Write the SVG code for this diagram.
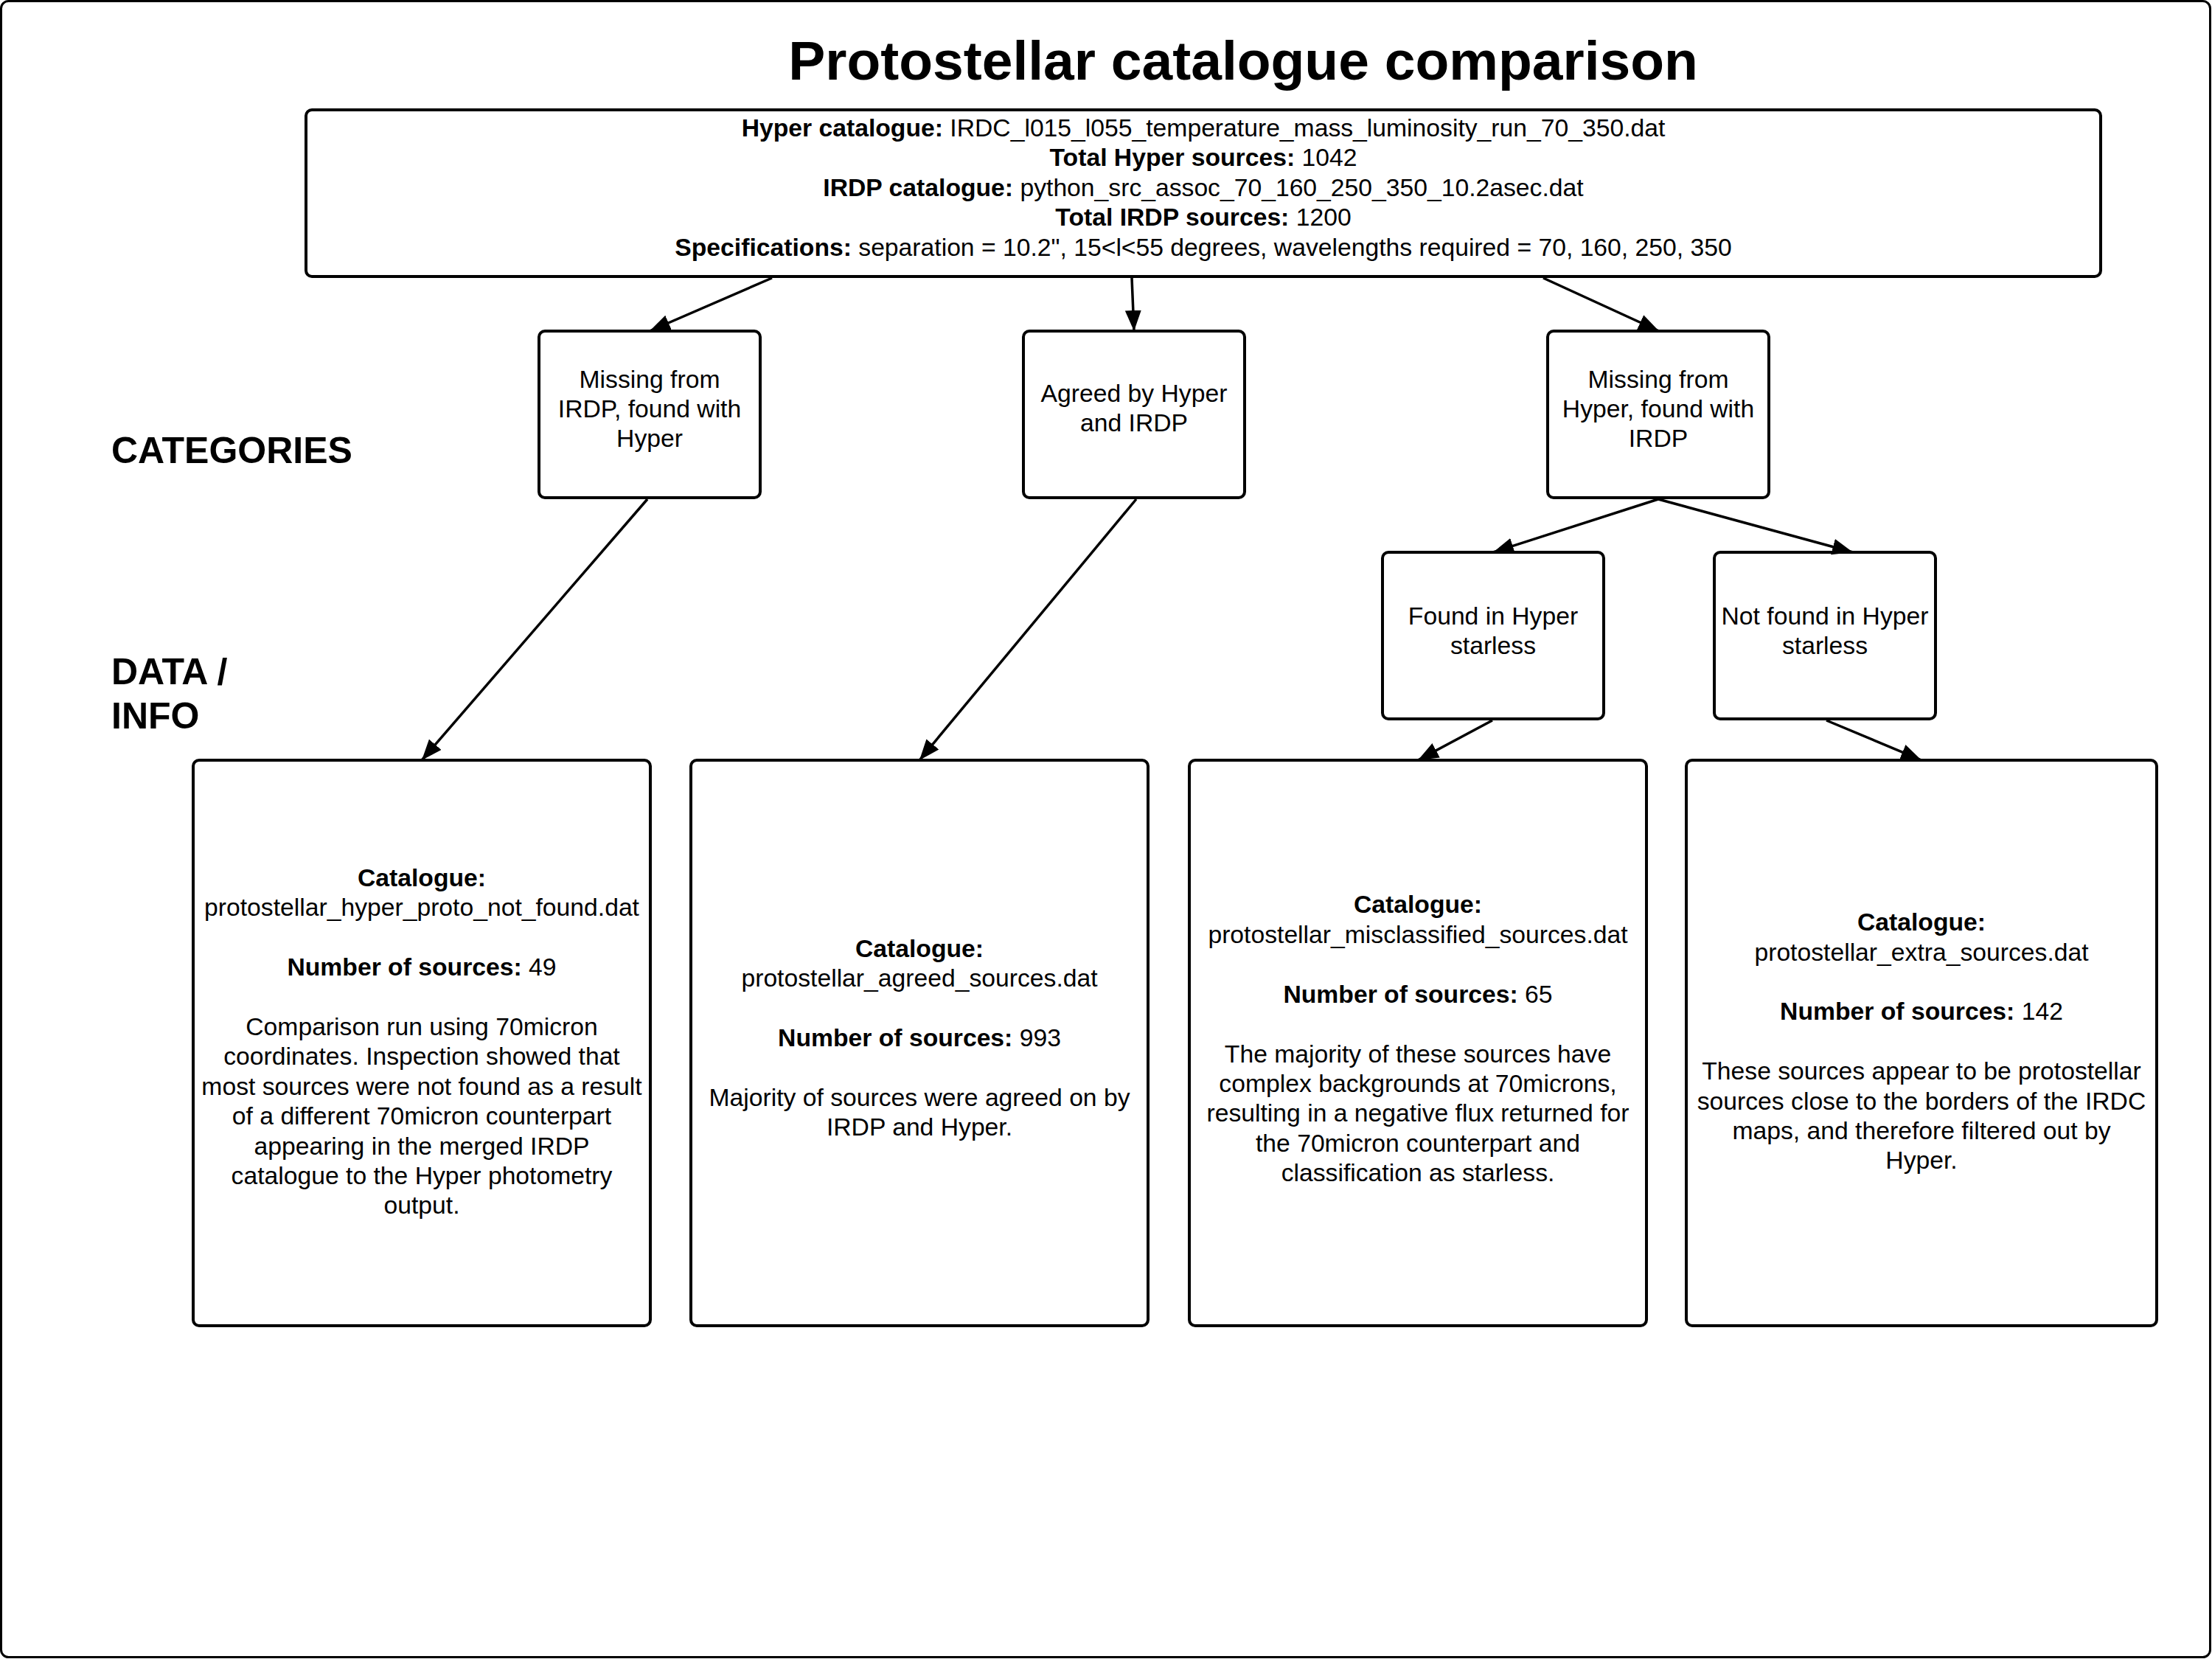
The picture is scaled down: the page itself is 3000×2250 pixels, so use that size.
<svg xmlns="http://www.w3.org/2000/svg" width="3000" height="2250" viewBox="0 0 3000 2250">
<defs>
<style>
text{font-family:"Liberation Sans",Arial,sans-serif;fill:#000}
.t{font-size:33.7px;text-anchor:middle}
.b{font-weight:bold}
.title{font-size:75px;font-weight:bold;text-anchor:middle}
.lab{font-size:50px;font-weight:bold}
.box{fill:#fff;stroke:#000;stroke-width:4}
.edge{fill:none;stroke:#000;stroke-width:3.5;marker-end:url(#arr)}
</style>
<marker id="arr" markerUnits="userSpaceOnUse" markerWidth="32" markerHeight="24" refX="28" refY="11" orient="auto" viewBox="0 0 32 24">
<path d="M0,0 L28,11 L0,22 Z" fill="#000"/>
</marker>
</defs>
<rect x="0" y="0" width="3000" height="2250" fill="#fff"/>
<rect x="1.5" y="1.5" width="2996" height="2246" rx="10" fill="none" stroke="#000" stroke-width="3"/>
<text class="title" x="1686" y="108">Protostellar catalogue comparison</text>
<text class="lab" x="151" y="628">CATEGORIES</text>
<text class="lab" x="151" y="928">DATA /</text>
<text class="lab" x="151" y="988">INFO</text>

<g id="header">
<rect class="box" x="415" y="149" width="2434" height="226" rx="8"/>
<text class="t" x="1632" y="185"><tspan class="b">Hyper catalogue:</tspan> IRDC_l015_l055_temperature_mass_luminosity_run_70_350.dat</text>
<text class="t" x="1632" y="225"><tspan class="b">Total Hyper sources:</tspan> 1042</text>
<text class="t" x="1632" y="266"><tspan class="b">IRDP catalogue:</tspan> python_src_assoc_70_160_250_350_10.2asec.dat</text>
<text class="t" x="1632" y="306"><tspan class="b">Total IRDP sources:</tspan> 1200</text>
<text class="t" x="1632" y="347"><tspan class="b">Specifications:</tspan> separation = 10.2", 15&lt;l&lt;55 degrees, wavelengths required = 70, 160, 250, 350</text>
</g>

<g id="cat-missing-irdp">
<rect class="box" x="731" y="449" width="300" height="226" rx="8"/>
<text class="t" x="881" y="526">Missing from</text>
<text class="t" x="881" y="566">IRDP, found with</text>
<text class="t" x="881" y="606">Hyper</text>
</g>
<g id="cat-agreed">
<rect class="box" x="1388" y="449" width="300" height="226" rx="8"/>
<text class="t" x="1538" y="545">Agreed by Hyper</text>
<text class="t" x="1538" y="585">and IRDP</text>
</g>
<g id="cat-missing-hyper">
<rect class="box" x="2099" y="449" width="300" height="226" rx="8"/>
<text class="t" x="2249" y="526">Missing from</text>
<text class="t" x="2249" y="566">Hyper, found with</text>
<text class="t" x="2249" y="606">IRDP</text>
</g>
<g id="cat-found-starless">
<rect class="box" x="1875" y="749" width="300" height="226" rx="8"/>
<text class="t" x="2025" y="847">Found in Hyper</text>
<text class="t" x="2025" y="887">starless</text>
</g>
<g id="cat-not-found-starless">
<rect class="box" x="2325" y="749" width="300" height="226" rx="8"/>
<text class="t" x="2475" y="847">Not found in Hyper</text>
<text class="t" x="2475" y="887">starless</text>
</g>

<g id="data-not-found">
<rect class="box" x="262" y="1031" width="620" height="767" rx="8"/>
<text class="t b" x="572" y="1202">Catalogue:</text>
<text class="t" x="572" y="1242">protostellar_hyper_proto_not_found.dat</text>
<text class="t" x="572" y="1323"><tspan class="b">Number of sources:</tspan> 49</text>
<text class="t" x="572" y="1404">Comparison run using 70micron</text>
<text class="t" x="572" y="1444">coordinates. Inspection showed that</text>
<text class="t" x="572" y="1485">most sources were not found as a result</text>
<text class="t" x="572" y="1525">of a different 70micron counterpart</text>
<text class="t" x="572" y="1566">appearing in the merged IRDP</text>
<text class="t" x="572" y="1606">catalogue to the Hyper photometry</text>
<text class="t" x="572" y="1646">output.</text>
</g>
<g id="data-agreed">
<rect class="box" x="937" y="1031" width="620" height="767" rx="8"/>
<text class="t b" x="1247" y="1298">Catalogue:</text>
<text class="t" x="1247" y="1338">protostellar_agreed_sources.dat</text>
<text class="t" x="1247" y="1419"><tspan class="b">Number of sources:</tspan> 993</text>
<text class="t" x="1247" y="1500">Majority of sources were agreed on by</text>
<text class="t" x="1247" y="1540">IRDP and Hyper.</text>
</g>
<g id="data-misclassified">
<rect class="box" x="1613" y="1031" width="620" height="767" rx="8"/>
<text class="t b" x="1923" y="1238">Catalogue:</text>
<text class="t" x="1923" y="1279">protostellar_misclassified_sources.dat</text>
<text class="t" x="1923" y="1360"><tspan class="b">Number of sources:</tspan> 65</text>
<text class="t" x="1923" y="1441">The majority of these sources have</text>
<text class="t" x="1923" y="1481">complex backgrounds at 70microns,</text>
<text class="t" x="1923" y="1521">resulting in a negative flux returned for</text>
<text class="t" x="1923" y="1562">the 70micron counterpart and</text>
<text class="t" x="1923" y="1602">classification as starless.</text>
</g>
<g id="data-extra">
<rect class="box" x="2287" y="1031" width="638" height="767" rx="8"/>
<text class="t b" x="2606" y="1262">Catalogue:</text>
<text class="t" x="2606" y="1303">protostellar_extra_sources.dat</text>
<text class="t" x="2606" y="1383"><tspan class="b">Number of sources:</tspan> 142</text>
<text class="t" x="2606" y="1464">These sources appear to be protostellar</text>
<text class="t" x="2606" y="1505">sources close to the borders of the IRDC</text>
<text class="t" x="2606" y="1545">maps, and therefore filtered out by</text>
<text class="t" x="2606" y="1585">Hyper.</text>
</g>

<g id="connectors">
<line class="edge" x1="1047" y1="377" x2="881" y2="449"/>
<line class="edge" x1="1535" y1="377" x2="1538" y2="449"/>
<line class="edge" x1="2093" y1="377" x2="2250" y2="449"/>
<line class="edge" x1="878" y1="677" x2="572" y2="1031"/>
<line class="edge" x1="1541" y1="677" x2="1247" y2="1031"/>
<line class="edge" x1="2249" y1="677" x2="2025" y2="749"/>
<line class="edge" x1="2249" y1="677" x2="2513" y2="749"/>
<line class="edge" x1="2024" y1="977" x2="1923" y2="1031"/>
<line class="edge" x1="2477" y1="977" x2="2606" y2="1031"/>
</g>
</svg>
